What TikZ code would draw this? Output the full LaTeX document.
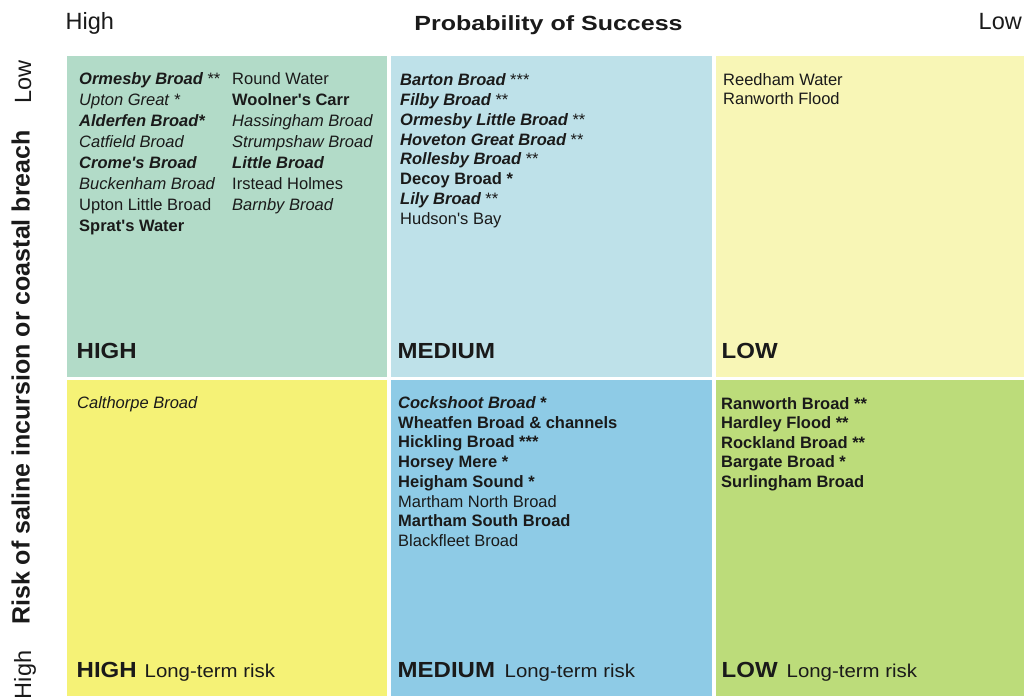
\documentclass[tikz,border=0pt]{standalone}
\usepackage{fontspec}
\setmainfont{Liberation Sans}
\usepackage{graphicx}
\definecolor{cTL}{HTML}{B2DBC8}
\definecolor{cTM}{HTML}{BEE1E9}
\definecolor{cTR}{HTML}{F8F6B6}
\definecolor{cBL}{HTML}{F5F276}
\definecolor{cBM}{HTML}{8ECBE6}
\definecolor{cBR}{HTML}{BCDC7A}
\definecolor{ink}{HTML}{1A1A1A}
\newcommand\itmBI[1]{{\bfseries\itshape #1}}
\newcommand\itmB[1]{{\bfseries #1}}
\newcommand\itmI[1]{{\itshape #1}}
\newcommand\apo{\textquotesingle}
\tikzset{
  quad/.style={inner sep=0pt, outer sep=0pt, draw=none},
  item/.style={anchor=base west, inner sep=0pt, text=ink, font=\fontsize{16.5}{20}\selectfont},
  biglab/.style={anchor=base west, inner sep=0pt, text=ink, font=\fontsize{24}{28}\selectfont\bfseries},
  smalllab/.style={anchor=base west, inner sep=0pt, text=ink, font=\fontsize{20.4}{24}\selectfont},
  axis/.style={anchor=base, inner sep=0pt, text=ink, font=\fontsize{23.5}{28}\selectfont},
  axisbold/.style={anchor=base, inner sep=0pt, text=ink, font=\fontsize{25}{30}\selectfont\bfseries}
}
\begin{document}
\begin{tikzpicture}[x=1pt,y=-1pt]
\useasboundingbox (0,0) rectangle (1024,696);
\fill[white] (0,0) rectangle (1024,696);
% quadrants
\fill[cTL] (67,56) rectangle (387,377);
\fill[cTM] (391,56) rectangle (712,377);
\fill[cTR] (716,56) rectangle (1024,377);
\fill[cBL] (67,380) rectangle (387,696);
\fill[cBM] (391,380) rectangle (712,696);
\fill[cBR] (716,380) rectangle (1024,696);
% axis titles
\node[axis, anchor=base west] (hi) at (65.5,29.3) {High};
\node[axis, anchor=base west] (lo) at (978.5,29.3) {Low};
\node[axisbold] (title) at (548.5,30.3) {\scalebox{1}[0.82]{Probability of Success}};
\node[axis, rotate=90] (vlo) at (31,82) {Low};
\node[axis, rotate=90] (vhi) at (31,675) {High};
\node[axisbold, rotate=90] (vtitle) at (29.5,377.5) {Risk of saline incursion or coastal breach};
% top-left column 1
\foreach \t [count=\i] in {
  {\itmBI{Ormesby Broad} **},
  {\itmI{Upton Great *}},
  {\itmBI{Alderfen Broad*}},
  {\itmI{Catfield Broad}},
  {\itmBI{Crome\apo s Broad}},
  {\itmI{Buckenham Broad}},
  {Upton Little Broad},
  {\itmB{Sprat\apo s Water}}}
  \node[item] (tla\i) at (79,{84.3+21.06*(\i-1)}) {\t};
% top-left column 2
\foreach \t [count=\i] in {
  {Round Water},
  {\itmB{Woolner\apo s Carr}},
  {\itmI{Hassingham Broad}},
  {\itmI{Strumpshaw Broad}},
  {\itmBI{Little Broad}},
  {Irstead Holmes},
  {\itmI{Barnby Broad}}}
  \node[item] (tlb\i) at (232,{84.3+21.06*(\i-1)}) {\t};
% top-middle
\foreach \t [count=\i] in {
  {\itmBI{Barton Broad} ***},
  {\itmBI{Filby Broad} **},
  {\itmBI{Ormesby Little Broad} **},
  {\itmBI{Hoveton Great Broad} **},
  {\itmBI{Rollesby Broad} **},
  {\itmB{Decoy Broad *}},
  {\itmBI{Lily Broad} **},
  {Hudson\apo s Bay}}
  \node[item] (tm\i) at (400,{85.5+19.86*(\i-1)}) {\t};
% top-right
\foreach \t [count=\i] in {
  {Reedham Water},
  {Ranworth Flood}}
  \node[item] (tr\i) at (723,{85.3+19.6*(\i-1)}) {\t};
% bottom-left
\node[item] (bl1) at (77,408.5) {\itmI{Calthorpe Broad}};
% bottom-middle
\foreach \t [count=\i] in {
  {\itmBI{Cockshoot Broad} \itmB{*}},
  {\itmB{Wheatfen Broad \& channels}},
  {\itmB{Hickling Broad ***}},
  {\itmB{Horsey Mere *}},
  {\itmB{Heigham Sound *}},
  {Martham North Broad},
  {\itmB{Martham South Broad}},
  {Blackfleet Broad}}
  \node[item] (bm\i) at (398,{408.3+19.77*(\i-1)}) {\t};
% bottom-right
\foreach \t [count=\i] in {
  {\itmB{Ranworth Broad **}},
  {\itmB{Hardley Flood **}},
  {\itmB{Rockland Broad **}},
  {\itmB{Bargate Broad *}},
  {\itmB{Surlingham Broad}}}
  \node[item] (br\i) at (721,{409.3+19.5*(\i-1)}) {\t};
% quadrant labels
\node[biglab] (lTL) at (76.5,358.3) {\scalebox{1}[0.91]{HIGH}};
\node[biglab] (lTM) at (397.5,358.3) {\scalebox{1}[0.91]{MEDIUM}};
\node[biglab] (lTR) at (721.5,358.3) {\scalebox{1}[0.91]{LOW}};
\node[biglab] (lBL) at (76.5,677.3) {\scalebox{1}[0.91]{HIGH}};
\node[smalllab] (sBL) at (144.5,677.3) {\scalebox{1}[0.91]{Long-term risk}};
\node[biglab] (lBM) at (397.5,677.3) {\scalebox{1}[0.91]{MEDIUM}};
\node[smalllab] (sBM) at (504.5,677.3) {\scalebox{1}[0.91]{Long-term risk}};
\node[biglab] (lBR) at (721.5,677.3) {\scalebox{1}[0.91]{LOW}};
\node[smalllab] (sBR) at (786.5,677.3) {\scalebox{1}[0.91]{Long-term risk}};
\end{tikzpicture}
\end{document}
